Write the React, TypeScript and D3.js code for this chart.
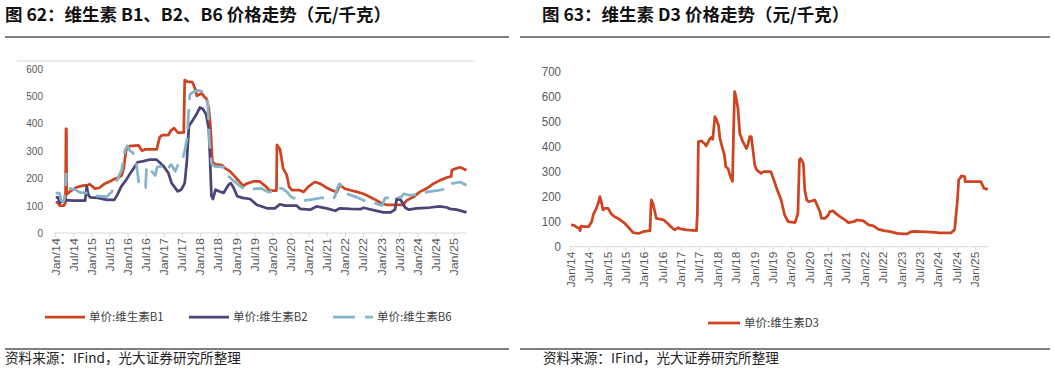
import React from 'react';
import * as d3 from 'd3';

// 价格数据（元/千克），按日期读取自原图
const b1Series: [string, number][] = [
  ['2014-01-01', 112], ['2014-01-20', 112], ['2014-02-10', 100], ['2014-03-25', 100], ['2014-04-10', 112],
  ['2014-04-15', 380], ['2014-04-19', 380], ['2014-04-21', 140], ['2014-05-20', 150], ['2014-06-25', 158],
  ['2014-08-01', 167], ['2014-10-01', 173], ['2014-11-20', 175], ['2014-12-10', 178], ['2015-02-01', 162],
  ['2015-03-20', 165], ['2015-05-10', 180], ['2015-07-01', 188], ['2015-08-20', 198], ['2015-10-01', 203],
  ['2015-10-28', 210], ['2015-11-20', 240], ['2015-12-10', 300], ['2016-01-01', 315], ['2016-02-01', 318],
  ['2016-04-15', 320], ['2016-05-20', 300], ['2016-06-20', 305], ['2016-10-15', 305], ['2016-11-15', 350],
  ['2016-12-10', 357], ['2017-02-10', 357], ['2017-03-10', 375], ['2017-04-10', 382], ['2017-05-20', 365],
  ['2017-07-15', 367], ['2017-07-25', 558], ['2017-08-20', 552], ['2017-10-10', 550], ['2017-11-05', 528],
  ['2017-11-25', 500], ['2017-12-20', 505], ['2018-01-10', 510], ['2018-02-05', 498], ['2018-03-01', 490],
  ['2018-03-25', 455], ['2018-04-10', 390], ['2018-04-30', 260], ['2018-06-01', 250], ['2018-08-01', 248],
  ['2018-09-10', 235], ['2018-10-25', 225], ['2018-12-01', 210], ['2019-01-01', 198], ['2019-02-15', 180],
  ['2019-03-10', 172], ['2019-04-10', 180], ['2019-06-15', 188], ['2019-08-20', 188], ['2019-10-10', 173],
  ['2019-11-30', 155], ['2020-02-05', 155], ['2020-02-10', 321], ['2020-03-12', 305], ['2020-04-12', 236],
  ['2020-05-18', 212], ['2020-06-12', 168], ['2020-07-10', 156], ['2020-09-25', 156], ['2020-11-05', 150],
  ['2020-12-20', 168], ['2021-02-25', 186], ['2021-04-20', 180], ['2021-06-10', 168], ['2021-08-15', 156],
  ['2021-10-05', 150], ['2021-11-05', 175], ['2021-12-25', 162], ['2022-02-20', 156], ['2022-04-25', 150],
  ['2022-07-01', 143], ['2022-09-05', 131], ['2022-11-10', 119], ['2023-01-05', 107], ['2023-02-20', 103],
  ['2023-08-05', 103], ['2023-09-10', 119], ['2023-11-15', 131], ['2024-01-20', 150], ['2024-03-28', 162],
  ['2024-06-05', 180], ['2024-08-10', 192], ['2024-11-01', 204], ['2024-12-01', 206], ['2024-12-08', 229],
  ['2025-01-15', 235], ['2025-03-01', 240], ['2025-05-05', 229],
];

const b2Series: [string, number][] = [
  ['2014-01-01', 130], ['2014-01-25', 130], ['2014-02-10', 110], ['2014-03-01', 115], ['2014-04-10', 120],
  ['2014-07-01', 118], ['2014-10-25', 118], ['2014-11-10', 170], ['2014-11-25', 140], ['2014-12-15', 130],
  ['2015-03-01', 128], ['2015-06-01', 121], ['2015-08-15', 121], ['2015-09-15', 140], ['2015-10-25', 170],
  ['2015-12-15', 195], ['2016-01-15', 213], ['2016-03-10', 243], ['2016-04-05', 258], ['2016-06-05', 262],
  ['2016-08-10', 268], ['2016-10-10', 268], ['2016-11-20', 255], ['2016-12-25', 243], ['2017-02-10', 219],
  ['2017-03-15', 182], ['2017-05-15', 152], ['2017-06-20', 158], ['2017-07-25', 182], ['2017-08-15', 260],
  ['2017-09-05', 390], ['2017-10-10', 409], ['2017-11-20', 433], ['2017-12-25', 458], ['2018-01-25', 452],
  ['2018-02-25', 433], ['2018-03-25', 379], ['2018-04-05', 282], ['2018-04-20', 136], ['2018-05-05', 124],
  ['2018-06-01', 158], ['2018-07-05', 152], ['2018-08-20', 146], ['2018-10-10', 176], ['2018-11-01', 182],
  ['2018-12-01', 164], ['2019-01-05', 134], ['2019-03-01', 128], ['2019-05-15', 124], ['2019-07-20', 103],
  ['2019-11-01', 90], ['2020-01-20', 90], ['2020-03-10', 105], ['2020-05-01', 100], ['2020-08-25', 100],
  ['2020-10-01', 88], ['2021-01-10', 85], ['2021-03-15', 97], ['2021-06-25', 90], ['2021-09-20', 81],
  ['2021-11-05', 90], ['2022-02-20', 88], ['2022-06-01', 87], ['2022-07-01', 92], ['2022-11-10', 81],
  ['2023-01-20', 75], ['2023-04-01', 75], ['2023-05-15', 85], ['2023-06-01', 124], ['2023-07-10', 122],
  ['2023-08-25', 93], ['2023-09-28', 85], ['2023-12-20', 90], ['2024-05-01', 93], ['2024-08-10', 97],
  ['2024-10-20', 93], ['2024-11-20', 88], ['2025-01-25', 85], ['2025-05-05', 75],
];

const b6Series: [string, number][] = [
  ['2014-01-01', 145], ['2014-02-10', 145], ['2014-02-25', 118], ['2014-03-25', 118], ['2014-04-08', 160],
  ['2014-04-15', 215], ['2014-04-21', 160], ['2014-06-01', 162], ['2014-07-15', 158], ['2014-09-01', 148],
  ['2014-12-20', 145], ['2015-02-10', 135], ['2015-06-01', 133], ['2015-07-20', 150], ['2015-08-20', 175],
  ['2015-10-28', 230], ['2015-12-01', 303], ['2015-12-25', 318], ['2016-01-20', 300], ['2016-02-20', 292],
  ['2016-03-20', 268], ['2016-04-10', 205], ['2016-04-20', 175], ['2016-05-25', 165], ['2016-06-25', 165],
  ['2016-07-05', 240], ['2016-07-25', 245], ['2016-08-15', 230], ['2016-10-01', 210], ['2016-10-20', 240],
  ['2016-12-20', 245], ['2017-01-25', 230], ['2017-03-10', 250], ['2017-04-20', 225], ['2017-05-20', 250],
  ['2017-06-20', 255], ['2017-07-20', 292], ['2017-08-15', 340], ['2017-09-15', 505], ['2017-10-20', 515],
  ['2017-12-15', 520], ['2018-01-25', 515], ['2018-02-20', 500], ['2018-03-15', 470], ['2018-04-01', 330],
  ['2018-04-20', 255], ['2018-05-20', 243], ['2018-08-20', 240], ['2018-10-01', 210], ['2018-12-01', 190],
  ['2019-01-20', 175], ['2019-03-01', 165], ['2019-06-01', 160], ['2019-09-01', 163], ['2019-11-10', 150],
  ['2020-01-25', 150], ['2020-02-20', 163], ['2020-04-01', 163], ['2020-05-20', 150], ['2020-07-05', 131],
  ['2020-08-20', 124], ['2020-11-20', 119], ['2021-01-20', 122], ['2021-05-01', 128], ['2021-09-01', 128],
  ['2021-09-15', 131], ['2021-10-10', 163], ['2021-11-01', 180], ['2021-12-01', 168], ['2022-01-15', 143],
  ['2022-04-20', 131], ['2022-07-01', 119], ['2022-09-01', 113], ['2022-11-10', 107], ['2023-01-01', 100],
  ['2023-02-05', 128], ['2023-05-01', 128], ['2023-07-15', 131], ['2023-08-10', 143], ['2023-10-10', 137],
  ['2024-01-25', 143], ['2024-04-05', 150], ['2024-08-10', 156], ['2024-10-20', 163], ['2024-12-05', 180],
  ['2025-03-01', 186], ['2025-05-05', 174],
];

const d3Series: [string, number][] = [
  ['2014-01-01', 87], ['2014-02-01', 85], ['2014-02-20', 80], ['2014-03-25', 73], ['2014-04-01', 64],
  ['2014-04-10', 82], ['2014-05-20', 80], ['2014-06-25', 80], ['2014-07-25', 100], ['2014-08-10', 127],
  ['2014-08-25', 140], ['2014-09-10', 153], ['2014-09-28', 173], ['2014-10-15', 200], ['2014-10-25', 187],
  ['2014-11-15', 147], ['2014-12-01', 153], ['2015-01-05', 153], ['2015-02-01', 133], ['2015-03-10', 120],
  ['2015-04-15', 113], ['2015-06-20', 93], ['2015-08-05', 73], ['2015-09-10', 56], ['2015-11-01', 53],
  ['2015-12-20', 60], ['2016-02-25', 64], ['2016-03-05', 160], ['2016-03-10', 187], ['2016-03-25', 173],
  ['2016-04-10', 145], ['2016-04-28', 113], ['2016-06-20', 109], ['2016-07-10', 107], ['2016-08-20', 93],
  ['2016-09-20', 80], ['2016-10-28', 67], ['2016-12-01', 76], ['2016-12-25', 71], ['2017-02-20', 67],
  ['2017-06-01', 64], ['2017-06-10', 133], ['2017-06-20', 420], ['2017-07-20', 423], ['2017-08-20', 413],
  ['2017-09-05', 403], ['2017-10-10', 430], ['2017-10-25', 437], ['2017-11-10', 430], ['2017-12-01', 520],
  ['2017-12-15', 510], ['2018-01-05', 487], ['2018-01-20', 433], ['2018-02-05', 407], ['2018-03-05', 367],
  ['2018-03-20', 320], ['2018-04-10', 313], ['2018-04-25', 293], ['2018-05-12', 273], ['2018-05-25', 262],
  ['2018-06-05', 473], ['2018-06-15', 620], ['2018-06-28', 600], ['2018-07-18', 553], ['2018-08-05', 453],
  ['2018-09-05', 420], ['2018-10-10', 393], ['2018-10-25', 407], ['2018-11-12', 440], ['2018-11-28', 440],
  ['2018-12-10', 400], ['2019-01-01', 327], ['2019-01-20', 307], ['2019-03-05', 293], ['2019-04-01', 300],
  ['2019-06-10', 300], ['2019-07-10', 267], ['2019-08-01', 240], ['2019-09-20', 187], ['2019-10-25', 127],
  ['2019-11-28', 100], ['2020-02-05', 96], ['2020-03-05', 133], ['2020-03-20', 347], ['2020-04-01', 353],
  ['2020-04-28', 333], ['2020-05-12', 227], ['2020-06-01', 187], ['2020-06-20', 180], ['2020-08-20', 187],
  ['2020-09-05', 173], ['2020-10-10', 140], ['2020-10-25', 113], ['2020-11-28', 113], ['2021-01-01', 127],
  ['2021-01-15', 140], ['2021-02-20', 143], ['2021-03-15', 133], ['2021-04-28', 120], ['2021-06-15', 107],
  ['2021-07-20', 96], ['2021-09-10', 100], ['2021-10-12', 107], ['2021-12-15', 103], ['2022-02-05', 87],
  ['2022-03-25', 83], ['2022-05-15', 69], ['2022-07-20', 63], ['2022-09-10', 60], ['2022-11-15', 53],
  ['2023-01-20', 51], ['2023-02-20', 51], ['2023-03-28', 59], ['2023-05-01', 61], ['2023-08-28', 59],
  ['2023-12-01', 57], ['2024-01-12', 55], ['2024-05-05', 55], ['2024-06-10', 69], ['2024-06-28', 147],
  ['2024-07-05', 173], ['2024-07-20', 267], ['2024-08-01', 273], ['2024-08-15', 283], ['2024-09-18', 280],
  ['2024-09-22', 260], ['2025-02-25', 260], ['2025-03-28', 233], ['2025-05-05', 229],
];

const leftYTicks = [0, 100, 200, 300, 400, 500, 600];
const rightYTicks = [0, 100, 200, 300, 400, 500, 600, 700];
const leftNames = ['单价:维生素B1', '单价:维生素B2', '单价:维生素B6'];
const rightNames = ['单价:维生素D3'];
const leftTitle = '图 62：维生素 B1、B2、B6 价格走势（元/千克）';
const rightTitle = '图 63：维生素 D3 价格走势（元/千克）';
const sourceNote = '资料来源：IFind，光大证券研究所整理';

const parse = d3.timeParse('%Y-%m-%d');
const fmt = d3.timeFormat('%b/%y');
const domainX: [Date, Date] = [parse('2014-01-01')!, parse('2025-05-07')!];

const RED = '#cf4420';
const NAVY = '#4b4677';
const LIGHTBLUE = '#86b5c9';
const TICK_FONT = '"Liberation Sans", Arial, sans-serif';
const CJK_FONT = '"Noto Sans CJK SC", "Noto Sans", sans-serif';

type Line = { data: [string, number][]; color: string; dash?: string };

type PanelProps = {
  x0: number; x1: number;        // x range of the plot
  yTop: number; yBottom: number; // pixel for max tick and 0
  yTicks: number[];
  lines: Line[];
  yFont: number; xFont: number; sy: number; // text sizes, vertical stretch
  yLabelRight: number;
};

function Panel(p: PanelProps) {
  const x = d3.scaleTime().domain(domainX).range([p.x0, p.x1]);
  const y = d3.scaleLinear().domain([0, d3.max(p.yTicks)!]).range([p.yBottom, p.yTop]);
  const line = d3.line<[string, number]>()
    .x((d) => x(parse(d[0])!))
    .y((d) => y(d[1]));
  const xTicks = x.ticks(d3.timeMonth.every(6)!);
  return (
    <g>
      {/* x axis */}
      <line x1={p.x0 - 1} x2={p.x1} y1={p.yBottom} y2={p.yBottom} stroke="#d9d9d9" strokeWidth={1} />
      {xTicks.map((t, i) => (
        <g key={i}>
          <line x1={x(t)} x2={x(t)} y1={p.yBottom} y2={p.yBottom + 4} stroke="#d9d9d9" />
          <text
            transform={`translate(${x(t)},${p.yBottom + 5}) scale(1,${p.sy}) rotate(-90)`}
            textAnchor="end"
            dy="0.35em"
            fontSize={p.xFont}
            fontFamily={TICK_FONT}
            fill="#595959"
          >
            {fmt(t)}
          </text>
        </g>
      ))}
      {/* y labels */}
      {p.yTicks.map((v) => (
        <text
          key={v}
          transform={`translate(${p.yLabelRight},${y(v)}) scale(1,${p.sy})`}
          textAnchor="end"
          dy="0.35em"
          fontSize={p.yFont}
          fontFamily={TICK_FONT}
          fill="#595959"
        >
          {v}
        </text>
      ))}
      {p.lines.map((l, i) => (
        <path
          key={i}
          d={line(l.data)!}
          fill="none"
          stroke={l.color}
          strokeWidth={2.75}
          strokeDasharray={l.dash}
          strokeLinejoin="round"
        />
      ))}
    </g>
  );
}

function Legend({ x, y, color, dash, label, len }: { x: number; y: number; color: string; dash?: string; label: string; len: number }) {
  return (
    <g>
      <line x1={x} x2={x + len} y1={y} y2={y} stroke={color} strokeWidth={2.75} strokeDasharray={dash} />
      <text x={x + len + 4} y={y} dy="0.35em" fontSize={11.5} fontFamily={CJK_FONT} fill="#404040">
        {label}
      </text>
    </g>
  );
}

export default function App() {
  const leftLines: Line[] = [
    { data: b1Series, color: RED },
    { data: b2Series, color: NAVY },
    { data: b6Series, color: LIGHTBLUE, dash: '20,9' },
  ];
  return (
    <svg
      width={1054}
      height={369}
      style={{ position: 'absolute', left: 0, top: 0, background: '#fff' }}
    >
      {/* titles */}
      <text x={5} y={15} dy="0.35em" fontSize={17.5} fontWeight="bold" fontFamily={CJK_FONT} fill="#111">
        {leftTitle}
      </text>
      <text x={542} y={15} dy="0.35em" fontSize={17.5} fontWeight="bold" fontFamily={CJK_FONT} fill="#111">
        {rightTitle}
      </text>
      <line x1={5} x2={509} y1={37} y2={37} stroke="#555" strokeWidth={1.5} />
      <line x1={520} x2={1050} y1={37} y2={37} stroke="#555" strokeWidth={1.5} />

      {/* left chart frame top */}
      <line x1={17} x2={475} y1={61} y2={61} stroke="#d9d9d9" strokeWidth={1} />

      <Panel
        x0={55.7} x1={466.7} yTop={68.5} yBottom={233}
        yTicks={leftYTicks} lines={leftLines}
        yFont={10} xFont={11} sy={1.14} yLabelRight={43}
      />
      <Panel
        x0={571} x1={988} yTop={71.7} yBottom={246.7}
        yTicks={rightYTicks} lines={[{ data: d3Series, color: RED }]}
        yFont={11.5} xFont={10.8} sy={1.1} yLabelRight={561}
      />

      {/* legends */}
      <Legend x={45} y={317} color={RED} label={leftNames[0]} len={40} />
      <Legend x={189} y={317} color={NAVY} label={leftNames[1]} len={40} />
      <Legend x={333} y={317} color={LIGHTBLUE} dash="22,10" label={leftNames[2]} len={40} />
      <Legend x={708} y={323} color={RED} label={rightNames[0]} len={32} />

      {/* footers */}
      <line x1={5} x2={509} y1={349} y2={349} stroke="#555" strokeWidth={1.5} />
      <line x1={520} x2={1050} y1={349} y2={349} stroke="#555" strokeWidth={1.5} />
      <text x={5} y={358.5} dy="0.35em" fontSize={13.6} fontFamily={CJK_FONT} fill="#222">
        {sourceNote}
      </text>
      <text x={543} y={358.5} dy="0.35em" fontSize={13.6} fontFamily={CJK_FONT} fill="#222">
        {sourceNote}
      </text>
    </svg>
  );
}
